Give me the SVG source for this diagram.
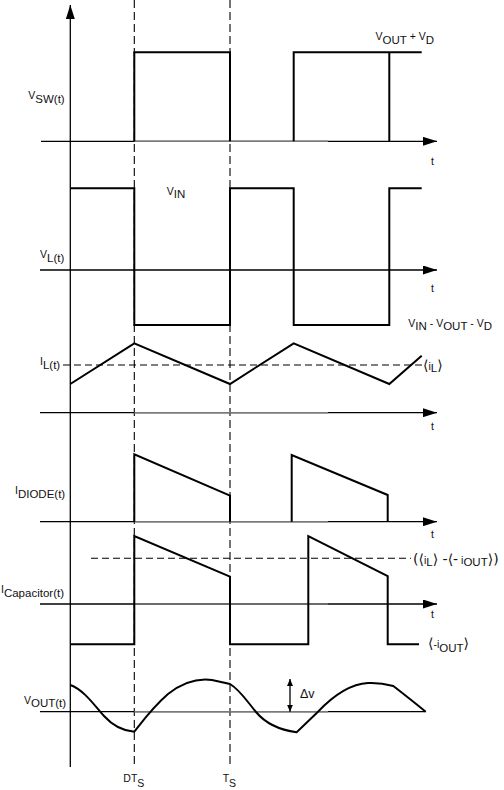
<svg xmlns="http://www.w3.org/2000/svg" width="504" height="790" viewBox="0 0 504 790">
<style>
.ax{stroke:#000;stroke-width:1.3;fill:none}
.gr{stroke:#7a7a7a;stroke-width:1.5;fill:none}
.wv{stroke:#000;stroke-width:2;fill:none;stroke-linejoin:miter}
.dv{stroke:#000;stroke-width:1.1;fill:none;stroke-dasharray:8,4}
.dh{stroke:#000;stroke-width:1.1;fill:none;stroke-dasharray:7,4}
text{font-family:"Liberation Sans",Arial,"DejaVu Sans",sans-serif;font-size:10.5px;fill:#111}
.s{font-size:11.5px}
.b{font-family:"DejaVu Sans","Liberation Sans",sans-serif;font-size:14px}
</style>
<defs>
<marker id="ah" markerWidth="14" markerHeight="9" refX="14" refY="4.5" orient="auto" markerUnits="userSpaceOnUse">
<path d="M0,0 L14,4.5 L0,9 Z" fill="#000"/>
</marker>
<marker id="sa" markerWidth="8" markerHeight="8" refX="7" refY="3" orient="auto" markerUnits="userSpaceOnUse">
<path d="M0,0 L7,3 L0,6 Z" fill="#000"/>
</marker>
</defs>

<g id="guides">
<line class="dv" x1="134.3" y1="0" x2="134.3" y2="768"/>
<line class="dv" x1="230" y1="0" x2="230" y2="768"/>
<line class="dh" x1="63" y1="365" x2="422" y2="365"/>
<line class="dh" x1="91" y1="558.3" x2="411" y2="558.3"/>
</g>

<g id="axes">
<line class="ax" x1="70.3" y1="767" x2="70.3" y2="5" marker-end="url(#ah)"/>
<line class="ax" x1="41" y1="141.3" x2="437" y2="141.3" marker-end="url(#ah)"/>
<line class="ax" x1="40" y1="270" x2="437" y2="270" marker-end="url(#ah)"/>
<line class="ax" x1="40" y1="412.7" x2="437" y2="412.7" marker-end="url(#ah)"/>
<line class="ax" x1="40" y1="521.7" x2="437" y2="521.7" marker-end="url(#ah)"/>
<line class="ax" x1="40" y1="604" x2="437" y2="604" marker-end="url(#ah)"/>
<line class="ax" x1="40" y1="711.7" x2="425.7" y2="711.7"/>
<line class="gr" x1="134.3" y1="141.3" x2="328" y2="141.3"/>
<line class="gr" x1="134.3" y1="412.7" x2="328" y2="412.7"/>
<line class="gr" x1="134.3" y1="521.7" x2="328" y2="521.7"/>
<line class="gr" x1="134.3" y1="604" x2="328" y2="604"/>
<line class="gr" x1="134.3" y1="711.7" x2="328" y2="711.7"/>
</g>

<g id="vsw">
<path class="wv" d="M134.3,141.3 V52.3 H230 V141.3"/>
<path class="wv" d="M293.7,141.3 V52.3 H421.7 M389.3,52.3 V141.3"/>
</g>

<g id="vl">
<path class="wv" d="M70.3,188.3 H134.3 V325 H230 V188.3 H293.7 V325 H389.3 V188.3 H421.7"/>
</g>

<g id="il">
<path class="wv" stroke-width="1.8" d="M70.3,384 L134.3,343.3 L230,384 L293.7,343.3 L389.3,384 L421.7,355.7"/>
</g>

<g id="idiode">
<path class="wv" d="M134.3,521.7 V454.3 L230,495.7 V521.7"/>
<path class="wv" d="M291.7,521.7 V455 L387.7,495 V521.7"/>
</g>

<g id="icap">
<path class="wv" d="M70.3,644.3 H134.3 V536 L230,576.7 V644.3 H308.3 V536 L387.7,576 V644.3 H419"/>
</g>

<g id="vout">
<path class="wv" stroke-width="1.8" d="M70.3,685 C84,690 94,705 104,716 C114,727 124,731 134.3,731.7 C142,722 152,708 168,694 C182,683 198,678 212,680 L230,684 C240,690 246,700 256,712 C266,724 280,730 296.7,732.3 L318,711.7 C332,697 350,684 368,683 C378,682.5 386,684 393.3,686 C405,695 415,703 425.7,711.7"/>
<line class="ax" x1="290" y1="695" x2="290" y2="679" marker-end="url(#sa)"/>
<line class="ax" x1="290" y1="695" x2="290" y2="711.7" marker-end="url(#sa)"/>
</g>

<g id="labels">
<text x="28.3" y="99">V<tspan class="s" dy="4">SW(t)</tspan></text>
<text x="375.5" y="40">V<tspan class="s" dy="3.5">OUT</tspan><tspan dy="-3.5"> + V</tspan><tspan class="s" dy="3.5">D</tspan></text>
<text x="431" y="165">t</text>
<text x="166.7" y="195">V<tspan class="s" dy="3">IN</tspan></text>
<text x="40" y="257.5">V<tspan class="s" dy="4">L(t)</tspan></text>
<text x="431" y="292">t</text>
<text x="408.3" y="326.5">V<tspan class="s" dy="3.5">IN</tspan><tspan dy="-3.5"> - V</tspan><tspan class="s" dy="3.5">OUT</tspan><tspan dy="-3.5"> - V</tspan><tspan class="s" dy="3.5">D</tspan></text>
<text x="40" y="365">I<tspan class="s" dy="4">L(t)</tspan></text>
<text x="423" y="370"><tspan class="b">⟨</tspan>i<tspan class="s" dy="2">L</tspan><tspan class="b" dy="-2">⟩</tspan></text>
<text x="431" y="430">t</text>
<text x="15" y="494">I<tspan class="s" dy="3.7">DIODE(t)</tspan></text>
<text x="431" y="538">t</text>
<text x="413" y="563.5"><tspan class="b">(⟨</tspan>i<tspan class="s" dy="2">L</tspan><tspan class="b" dy="-2">⟩ -⟨-</tspan> i<tspan class="s" dy="2">OUT</tspan><tspan class="b" dy="-2">⟩)</tspan></text>
<text x="1" y="593">I<tspan class="s" dy="3.5">Capacitor(t)</tspan></text>
<text x="431" y="618">t</text>
<text x="428" y="648"><tspan class="b">⟨</tspan>-i<tspan class="s" dy="3.5">OUT</tspan><tspan class="b" dy="-3.5">⟩</tspan></text>
<text x="24" y="704">V<tspan class="s" dy="3.3">OUT(t)</tspan></text>
<text x="300" y="698" style="font-size:12.5px">Δv</text>
<text x="123.3" y="781.7">DT<tspan dy="5">S</tspan></text>
<text x="222.7" y="781.7">T<tspan dy="5">S</tspan></text>
</g>
</svg>
